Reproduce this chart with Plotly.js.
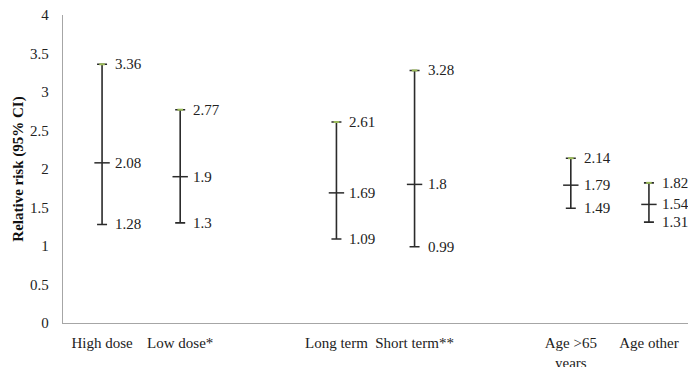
<!DOCTYPE html>
<html>
<head>
<meta charset="utf-8">
<script src="https://cdn.plot.ly/plotly-3.0.1.min.js"></script>
<style>html,body{margin:0;padding:0;background:#fff;}#chart{width:688px;height:367px;}</style>
</head>
<body>
<div id="chart"></div>
<script>
// Category slots (blank slots separate the groups)
const categorySlots = ['High dose', 'Low dose*', ' ', 'Long term', 'Short term**', '  ', 'Age >65<br>years', 'Age other'];
const categories = ['High dose', 'Low dose*', 'Long term', 'Short term**', 'Age >65<br>years', 'Age other'];
const rrHigh = [3.36, 2.77, 2.61, 3.28, 2.14, 1.82];
const rrMid  = [2.08, 1.9, 1.69, 1.8, 1.79, 1.54];
const rrLow  = [1.28, 1.3, 1.09, 0.99, 1.49, 1.31];
const yTicks = [0, 0.5, 1, 1.5, 2, 2.5, 3, 3.5, 4];

const lineColor = '#2b2b2b';
const font = {family: '"Liberation Serif", "Times New Roman", serif', size: 15, color: '#222222'};

const traces = [
  {
    type: 'scatter', mode: 'markers', x: categories, y: rrMid,
    marker: {symbol: 'line-ew', size: 11, line: {color: lineColor, width: 1.5}},
    error_y: {
      type: 'data', symmetric: false,
      array: rrHigh.map((h, i) => h - rrMid[i]),
      arrayminus: rrLow.map((l, i) => rrMid[i] - l),
      color: lineColor, thickness: 1.6, width: 5
    },
    hoverinfo: 'skip', showlegend: false
  },
  {
    type: 'scatter', mode: 'markers', x: categories, y: rrHigh,
    marker: {symbol: 'line-ew', size: 4, line: {color: '#9bbb59', width: 2}},
    hoverinfo: 'skip', showlegend: false
  }
];

const annotations = [];
[rrHigh, rrMid, rrLow].forEach(arr => {
  arr.forEach((v, i) => {
    annotations.push({
      x: categories[i], y: v, text: String(v), showarrow: false,
      xanchor: 'left', yanchor: 'middle', xshift: 11, font: font
    });
  });
});

const layout = {
  width: 688, height: 367,
  margin: {l: 63, r: 0, t: 15, b: 44},
  paper_bgcolor: '#fff', plot_bgcolor: '#fff',
  font: font,
  showlegend: false,
  xaxis: {
    type: 'category', categoryorder: 'array', categoryarray: categorySlots,
    range: [-0.5, 7.5], showgrid: false, zeroline: false,
    showline: true, linecolor: '#a6a6a6', linewidth: 1.3,
    ticks: '', ticklabelstandoff: 6, tickfont: font, fixedrange: true, automargin: false
  },
  yaxis: {
    range: [0, 4], tickvals: yTicks, ticktext: yTicks.map(String),
    showgrid: false, zeroline: false,
    showline: true, linecolor: '#a6a6a6', linewidth: 1.3,
    ticks: '', ticklabelstandoff: 10, tickfont: font, automargin: true,
    title: {text: 'Relative risk (95% CI)', font: {family: font.family, size: 15, color: '#111111', weight: 'bold'}, standoff: 2},
    fixedrange: true
  },
  annotations: annotations
};

Plotly.newPlot('chart', traces, layout, {displayModeBar: false, staticPlot: true});
</script>
</body>
</html>
